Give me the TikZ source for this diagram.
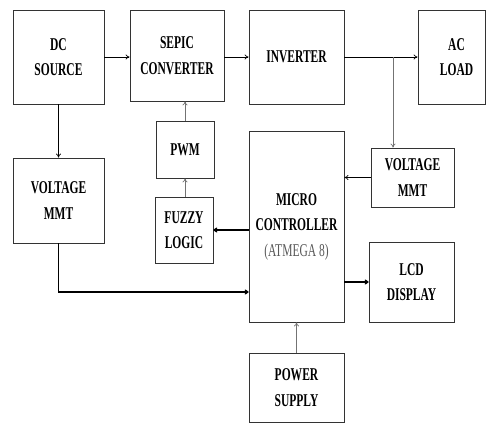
\documentclass[tikz,border=0pt]{standalone}
\usepackage{fontspec}
\setmainfont{Liberation Serif}
\usetikzlibrary{arrows.meta}
\newcommand{\nq}[1]{\scalebox{0.64}[1]{#1}}
\begin{document}
\begin{tikzpicture}[x=1pt,y=-1pt,
  box/.style={draw=black!80,line width=0.8pt,align=center,inner sep=0pt,
    font=\fontsize{18}{25.5}\selectfont\bfseries},
  arr/.style={line width=0.7pt,-{To[length=4pt,width=5pt]}},
  garr/.style={arr,draw=black!55},
  tarr/.style={arr,line width=1.4pt}]
\useasboundingbox (0,0) rectangle (486,423);
\node[box,minimum width=91pt,minimum height=94pt] (dc) at (58.5,57) {\nq{DC}\\\nq{SOURCE}};
\node[box,minimum width=94pt,minimum height=91pt] (sepic) at (177,55.5) {\nq{SEPIC}\\\nq{CONVERTER}};
\node[box,minimum width=95pt,minimum height=94pt] (inv) at (296.5,57) {\nq{INVERTER}};
\node[box,minimum width=67pt,minimum height=94pt] (acl) at (451.5,57) {\hspace*{10pt}\nq{AC}\\\hspace*{10pt}\nq{LOAD}};
\node[box,minimum width=83pt,minimum height=59pt] (vr) at (412.5,177.5) {\nq{VOLTAGE}\\\nq{MMT}};
\node[box,minimum width=95pt,minimum height=191pt] (micro) at (296.5,226.5) {\nq{MICRO}\\\nq{CONTROLLER}\\\mdseries\color{black!65}\nq{(ATMEGA 8)}};
\node[box,minimum width=85pt,minimum height=80pt] (lcd) at (411.5,282) {\nq{LCD}\\\nq{DISPLAY}};
\node[box,minimum width=95pt,minimum height=69pt] (ps) at (296.5,387.5) {\nq{POWER}\\\nq{SUPPLY}};
\node[box,minimum width=58pt,minimum height=57pt] (pwm) at (185,149.5) {\nq{PWM}};
\node[box,minimum width=58pt,minimum height=66pt] (fuzzy) at (184,230) {\nq{FUZZY}\\\nq{LOGIC}};
\node[box,minimum width=91pt,minimum height=85pt] (vl) at (58.5,200.5) {\nq{VOLTAGE}\\\nq{MMT}};
\coordinate (br) at (393,57);
\draw[arr] (dc.east) -- (sepic.west |- dc.east);
\draw[arr] (sepic.east |- inv.west) -- (inv.west);
\draw[arr] (inv.east) -- (acl.west);
\draw[garr] (br) -- (br |- vr.north);
\draw[arr] (vr.west) -- (vr.west -| micro.east);
\draw[arr] (dc.south) -- (vl.north);
\draw[tarr] (vl.south) |- ([yshift=-65.5pt]micro.west);
\draw[tarr] (micro.west |- fuzzy.east) -- (fuzzy.east);
\draw[garr] (pwm.south |- fuzzy.north) -- (pwm.south);
\draw[garr] (pwm.north) -- (pwm.north |- sepic.south);
\draw[tarr] (micro.east |- lcd.west) -- (lcd.west);
\draw[garr] (ps.north) -- (micro.south);
\end{tikzpicture}
\end{document}
